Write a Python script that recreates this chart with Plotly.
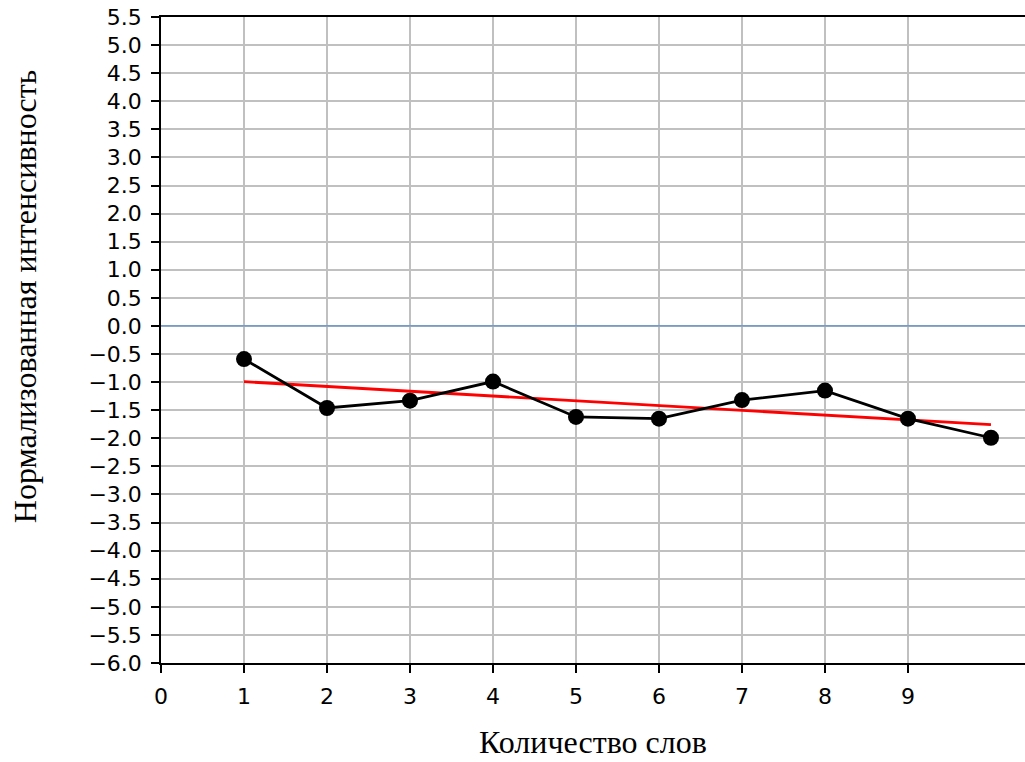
import numpy as np
import plotly.graph_objects as go

# Normalised intensity per word count
word_count = [1, 2, 3, 4, 5, 6, 7, 8, 9, 10]
intensity = [-0.59, -1.46, -1.33, -0.99, -1.62, -1.65, -1.32, -1.15, -1.65, -1.99]

x_ticks = [0, 1, 2, 3, 4, 5, 6, 7, 8, 9]
y_ticks = [v / 2 for v in range(-12, 12)]

# Least-squares trend line through the points
slope, intercept = np.polyfit(word_count, intensity, 1)
trend = [slope * x + intercept for x in word_count]

fig = go.Figure()

fig.add_trace(go.Scatter(
    x=word_count, y=trend, mode="lines",
    line=dict(color="#ff0000", width=2.8),
    showlegend=False, hoverinfo="skip",
))
fig.add_trace(go.Scatter(
    x=word_count, y=intensity, mode="lines+markers",
    line=dict(color="#000000", width=2.8),
    marker=dict(color="#000000", size=16),
    showlegend=False,
))

# Horizontal reference line at zero
fig.add_shape(type="line", xref="paper", yref="y", x0=0, x1=1, y0=0, y1=0,
              line=dict(color="#5d8fc9", width=1.2), layer="above")

tick_font = dict(family="DejaVu Sans", size=22, color="#000000")
title_font = dict(family="Liberation Serif", size=32, color="#000000")

fig.update_xaxes(
    range=[0, 10.41], tickmode="array", tickvals=x_ticks,
    showgrid=True, gridcolor="#c0c0c0", gridwidth=1.5,
    showline=True, linecolor="#000000", linewidth=1.5, mirror=True,
    ticks="outside", ticklen=8, tickwidth=1.5, tickcolor="#000000",
    tickfont=tick_font, zeroline=False, ticklabelstandoff=5,
)
fig.update_yaxes(
    range=[-6, 5.5], tickmode="array", tickvals=y_ticks, tickformat=".1f",
    showgrid=True, gridcolor="#c0c0c0", gridwidth=1.5,
    showline=True, linecolor="#000000", linewidth=1.5, mirror=False,
    ticks="outside", ticklen=8, tickwidth=1.5, tickcolor="#000000",
    tickfont=tick_font, zeroline=False, ticklabelstandoff=5,
)

fig.add_annotation(
    text="Количество слов", xref="paper", yref="paper",
    x=0.5, y=-0.152, xanchor="center", yanchor="bottom",
    showarrow=False, font=title_font, borderpad=0,
)
fig.add_annotation(
    text="Нормализованная интенсивность", xref="paper", yref="paper",
    x=-0.158, y=0.567, xanchor="center", yanchor="middle", textangle=-90,
    showarrow=False, font=title_font,
)

fig.update_layout(
    width=1025, height=762,
    margin=dict(l=161, r=0, t=17, b=99),
    paper_bgcolor="#ffffff", plot_bgcolor="#ffffff",
)

fig.write_html("out.html")
